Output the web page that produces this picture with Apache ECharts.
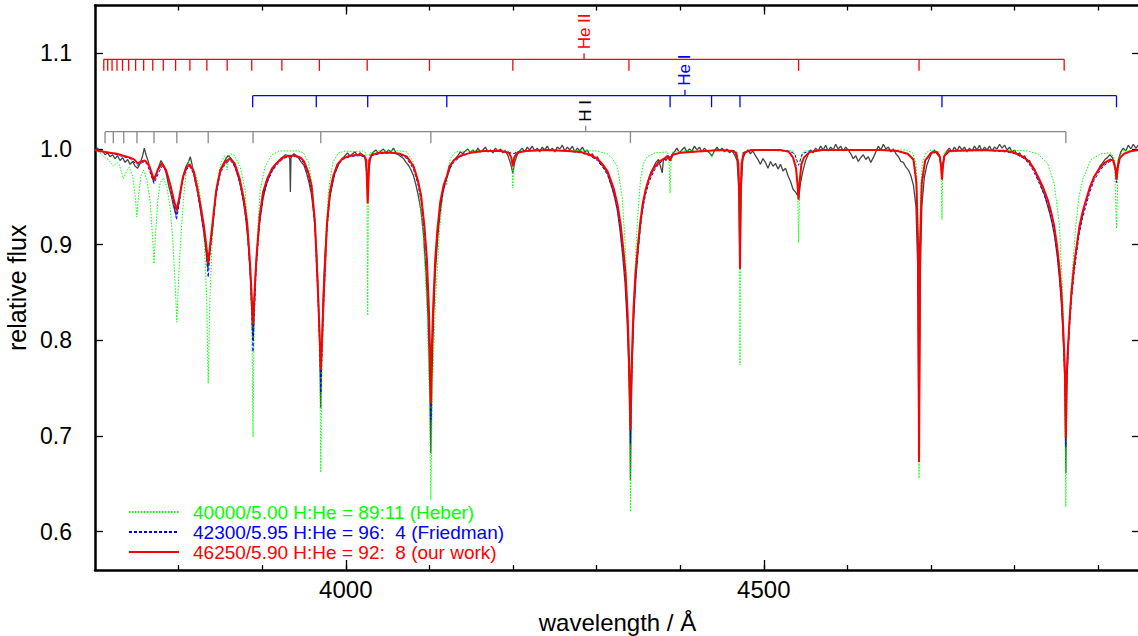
<!DOCTYPE html>
<html><head><meta charset="utf-8">
<script src="https://cdn.jsdelivr.net/npm/echarts@6/dist/echarts.min.js"></script>
<style>html,body{margin:0;padding:0;background:#fff}#chart{width:1138px;height:636px}</style>
</head><body><div id="chart"></div>
<script>
// ---------- tick values ----------
const xMinorTicks = [3800, 3900, 4000, 4100, 4200, 4300, 4400, 4500, 4600, 4700, 4800, 4900];
const xMajorTicks = [4000, 4500];
const yTicks = [0.6, 0.7, 0.8, 0.9, 1.0, 1.1];

// ---------- line identifications (wavelength / Å) ----------
const heIILines = [3710.5, 3715.2, 3720.4, 3726.3, 3732.9, 3740.3, 3748.6, 3758.2, 3769.1, 3781.7, 3796.4, 3813.5, 3833.8, 3858.1, 3887.5, 3923.5, 3968.4, 4025.6, 4100.1, 4199.8, 4338.7, 4541.6, 4685.7, 4859.3];
const heILines = [3888.6, 3964.7, 4026.2, 4120.8, 4387.9, 4437.5, 4471.5, 4713.1, 4921.9];
const hILines = [3712.0, 3721.9, 3734.4, 3750.2, 3770.6, 3797.9, 3835.4, 3889.05, 3970.07, 4101.74, 4340.47, 4861.33];
const ionNames = ['He II', 'He I', 'H I'];
const ionLabelWaves = [4285, 4405.7, 4287];

// ---------- legend ----------
const legendNames = ['40000/5.00 H:He = 89:11 (Heber)', '42300/5.95 H:He = 96:  4 (Friedman)', '46250/5.90 H:He = 92:  8 (our work)'];

// ---------- model: 40000/5.00 (Heber) ----------
const greenModel = [[3700,0.999],[3706,0.996],[3712,0.991],[3716,0.989],[3719,0.985],[3722,0.982],[3726,0.986],[3729,0.984],[3734,0.969],[3738,0.977],[3741,0.981],[3745,0.972],[3748,0.952],[3750,0.929],[3752,0.950],[3755,0.972],[3758,0.978],[3762,0.968],[3766,0.945],[3769,0.905],[3770.6,0.880],[3772,0.905],[3775,0.945],[3778,0.965],[3782,0.970],[3786,0.960],[3790,0.938],[3793,0.905],[3795.5,0.865],[3797.9,0.819],[3800,0.865],[3802.5,0.905],[3806,0.950],[3809,0.975],[3812,0.987],[3815,0.984],[3818,0.978],[3820,0.975],[3824,0.962],[3828,0.935],[3831,0.900],[3833.5,0.845],[3835.4,0.755],[3837.5,0.845],[3840,0.900],[3843,0.940],[3847,0.970],[3851,0.986],[3855,0.993],[3857,0.990],[3858,0.978],[3859.5,0.990],[3862,0.995],[3866,0.994],[3873.6,0.982],[3879.6,0.957],[3883.5,0.912],[3886.4,0.853],[3888,0.790],[3889,0.699],[3890,0.790],[3891.6,0.853],[3894.4,0.912],[3897.6,0.957],[3903.5,0.982],[3911.5,0.994],[3921.5,0.998],[3935,0.998],[3943,0.998],[3949.4,0.996],[3955.4,0.986],[3960.6,0.957],[3964.6,0.906],[3967.4,0.835],[3969,0.760],[3970.1,0.662],[3971.2,0.760],[3973.4,0.835],[3975.7,0.906],[3979.3,0.957],[3984.6,0.986],[3991.3,0.996],[4000,0.998],[4010,0.997],[4020,0.998],[4024,0.996],[4025.3,0.970],[4026.2,0.826],[4027.1,0.970],[4028.5,0.996],[4040,0.998],[4065,0.998],[4073.2,0.997],[4081,0.986],[4087,0.961],[4092.4,0.912],[4097,0.835],[4100,0.740],[4101.7,0.633],[4103.4,0.740],[4107,0.835],[4111.9,0.912],[4117,0.961],[4119.5,0.970],[4120.8,0.962],[4122,0.976],[4125,0.990],[4131,0.997],[4145,0.998],[4190,0.999],[4197,0.997],[4198.8,0.985],[4199.8,0.959],[4200.8,0.985],[4203,0.997],[4240,0.999],[4300,0.998],[4312.7,0.995],[4319,0.990],[4324.7,0.982],[4330.6,0.950],[4334.6,0.894],[4338.2,0.800],[4339.5,0.720],[4340.5,0.621],[4341.5,0.720],[4342.8,0.800],[4347,0.894],[4348.6,0.922],[4352.5,0.968],[4356,0.985],[4360.5,0.992],[4370.5,0.996],[4385,0.997],[4386.8,0.985],[4387.9,0.954],[4389,0.985],[4391,0.997],[4420,0.999],[4435,0.998],[4437.5,0.991],[4440,0.998],[4462,0.999],[4468,0.997],[4470,0.975],[4471,0.900],[4471.5,0.774],[4472,0.900],[4473,0.975],[4475,0.997],[4500,0.999],[4535,0.998],[4538.5,0.990],[4540.3,0.965],[4541.6,0.902],[4542.9,0.965],[4544.5,0.990],[4548,0.998],[4600,0.999],[4670,0.999],[4678,0.996],[4682,0.985],[4684,0.950],[4685,0.880],[4685.7,0.656],[4686.4,0.880],[4687.4,0.950],[4689.5,0.985],[4694,0.996],[4700,0.999],[4710,0.997],[4712,0.985],[4713.1,0.926],[4714.2,0.985],[4716,0.997],[4790,0.999],[4815,0.998],[4827.5,0.995],[4839.5,0.985],[4847.4,0.964],[4853.4,0.922],[4857.4,0.853],[4859.5,0.770],[4861.3,0.626],[4863,0.770],[4867.4,0.853],[4873.4,0.922],[4877,0.950],[4881.4,0.968],[4891.3,0.989],[4903.3,0.995],[4915,0.996],[4919.5,0.990],[4921.9,0.917],[4924,0.990],[4930,0.998],[4950,0.999]];

// ---------- model: 42300/5.95 (Friedman) ----------
const blueModel = [[3700,0.999],[3712,0.997],[3726,0.994],[3734,0.992],[3742,0.990],[3751,0.983],[3757,0.986],[3762,0.985],[3770.6,0.964],[3776,0.975],[3781,0.983],[3786,0.975],[3790,0.960],[3794,0.944],[3797.5,0.926],[3801,0.945],[3805,0.967],[3809,0.978],[3813,0.982],[3818,0.974],[3822,0.957],[3826,0.937],[3830,0.915],[3833,0.893],[3835.4,0.866],[3838,0.895],[3841,0.921],[3845,0.953],[3850,0.975],[3856,0.985],[3862,0.988],[3867,0.982],[3873,0.965],[3878,0.943],[3882,0.917],[3885.5,0.872],[3887.5,0.830],[3889,0.788],[3890.5,0.830],[3893,0.877],[3897,0.924],[3901,0.950],[3906,0.965],[3912,0.977],[3918,0.984],[3925,0.990],[3932,0.992],[3940,0.992],[3946,0.990],[3950,0.985],[3955,0.973],[3959,0.957],[3963,0.919],[3966.5,0.848],[3968.5,0.800],[3970.1,0.745],[3972,0.800],[3974,0.848],[3977.5,0.916],[3981,0.951],[3985,0.969],[3990,0.982],[3996,0.989],[4005,0.992],[4015,0.993],[4022,0.992],[4024.5,0.989],[4026.2,0.955],[4028,0.989],[4031,0.993],[4040,0.995],[4055,0.996],[4065,0.994],[4073,0.990],[4081,0.979],[4086,0.964],[4090,0.947],[4094,0.914],[4097,0.878],[4099.3,0.826],[4100.7,0.780],[4101.7,0.717],[4102.8,0.780],[4104.5,0.826],[4107,0.878],[4109.5,0.909],[4113,0.940],[4117,0.958],[4121,0.970],[4124,0.979],[4129,0.986],[4137,0.992],[4149,0.996],[4165,0.998],[4190,0.998],[4199.8,0.995],[4210,0.998],[4240,0.999],[4265,0.998],[4281,0.996],[4292,0.993],[4301,0.988],[4308,0.980],[4313,0.973],[4318,0.961],[4321,0.952],[4325,0.936],[4328.6,0.915],[4332,0.888],[4334.6,0.862],[4337,0.820],[4338.5,0.780],[4339.7,0.740],[4340.5,0.692],[4341.3,0.740],[4342.5,0.780],[4344,0.820],[4346.5,0.862],[4349,0.888],[4352,0.915],[4355,0.936],[4358.5,0.952],[4363,0.966],[4368.5,0.977],[4375,0.985],[4381,0.989],[4387.9,0.992],[4392,0.994],[4400,0.996],[4430,0.998],[4448,0.999],[4465,0.998],[4469.5,0.987],[4470.7,0.955],[4471.5,0.875],[4472.3,0.955],[4473.5,0.987],[4477,0.997],[4490,0.999],[4530,0.998],[4537,0.995],[4541.6,0.983],[4546,0.995],[4555,0.998],[4570,0.999],[4650,0.999],[4665,0.997],[4675,0.993],[4680,0.987],[4682.5,0.962],[4684.5,0.895],[4685.7,0.680],[4686.9,0.895],[4689,0.962],[4693,0.987],[4700,0.995],[4708,0.997],[4711,0.991],[4713.1,0.972],[4715,0.991],[4720,0.998],[4760,0.999],[4790,0.997],[4800,0.995],[4810,0.991],[4816,0.986],[4822,0.978],[4828,0.967],[4834,0.955],[4840,0.941],[4844,0.927],[4847.5,0.912],[4851,0.890],[4853.5,0.869],[4856,0.842],[4857.5,0.817],[4859,0.786],[4860.2,0.755],[4861.3,0.689],[4862.4,0.755],[4864,0.786],[4866,0.817],[4868,0.842],[4871,0.869],[4874,0.890],[4877.5,0.912],[4881,0.927],[4885.5,0.941],[4890,0.955],[4895,0.967],[4901,0.976],[4907,0.983],[4914,0.987],[4918,0.986],[4920.5,0.978],[4921.9,0.965],[4923.3,0.978],[4926,0.990],[4931,0.995],[4940,0.998],[4950,0.999]];

// ---------- model: 46250/5.90 (our work) ----------
const redModel = [[3700,0.999],[3705,0.998],[3712,0.997],[3718,0.996],[3726,0.995],[3734,0.993],[3742,0.991],[3747,0.989],[3751,0.985],[3755,0.987],[3760,0.988],[3765,0.982],[3770.6,0.968],[3775,0.978],[3780,0.985],[3785,0.978],[3790,0.963],[3794,0.948],[3797.5,0.936],[3801,0.950],[3805,0.970],[3809,0.980],[3813,0.984],[3818,0.977],[3822,0.961],[3826,0.942],[3830,0.921],[3833,0.900],[3835.4,0.881],[3838,0.902],[3841,0.926],[3845,0.957],[3850,0.978],[3856,0.987],[3862,0.990],[3867,0.985],[3873,0.969],[3878,0.948],[3882,0.923],[3885.5,0.880],[3887.5,0.845],[3889,0.817],[3890.5,0.845],[3893,0.885],[3897,0.930],[3901,0.955],[3906,0.969],[3912,0.980],[3918,0.986],[3925,0.991],[3932,0.993],[3940,0.993],[3946,0.991],[3950,0.987],[3955,0.976],[3959,0.962],[3963,0.925],[3966.5,0.855],[3968.5,0.810],[3970.1,0.769],[3972,0.810],[3974,0.855],[3977.5,0.922],[3981,0.955],[3985,0.972],[3990,0.984],[3996,0.990],[4005,0.993],[4015,0.994],[4022,0.993],[4024.5,0.988],[4026.2,0.943],[4028,0.988],[4031,0.994],[4040,0.996],[4055,0.996],[4065,0.995],[4073,0.992],[4081,0.982],[4086,0.968],[4090,0.952],[4094,0.920],[4097,0.885],[4099.3,0.835],[4100.7,0.790],[4101.7,0.734],[4102.8,0.790],[4104.5,0.835],[4107,0.885],[4109.5,0.915],[4113,0.945],[4117,0.962],[4121,0.972],[4124,0.982],[4129,0.988],[4137,0.993],[4149,0.996],[4165,0.998],[4185,0.998],[4195,0.996],[4198,0.991],[4199.8,0.982],[4201.5,0.991],[4205,0.996],[4215,0.998],[4240,0.999],[4265,0.998],[4281,0.997],[4292,0.994],[4301,0.990],[4308,0.983],[4313,0.977],[4318,0.965],[4321,0.957],[4325,0.942],[4328.6,0.922],[4332,0.895],[4334.6,0.870],[4337,0.830],[4338.5,0.790],[4339.7,0.750],[4340.5,0.706],[4341.3,0.750],[4342.5,0.790],[4344,0.830],[4346.5,0.870],[4349,0.895],[4352,0.922],[4355,0.942],[4358.5,0.957],[4363,0.970],[4368.5,0.980],[4375,0.987],[4381,0.990],[4385,0.993],[4387.9,0.988],[4391,0.994],[4400,0.996],[4412,0.997],[4430,0.998],[4448,0.999],[4462,0.998],[4467,0.996],[4469.5,0.985],[4470.7,0.950],[4471.5,0.875],[4472.3,0.950],[4473.5,0.985],[4476,0.996],[4485,0.999],[4520,0.999],[4530,0.997],[4535,0.991],[4538.5,0.980],[4540.3,0.963],[4541.6,0.947],[4543,0.967],[4545,0.984],[4548,0.991],[4555,0.997],[4570,0.999],[4640,0.999],[4660,0.998],[4672,0.995],[4679,0.989],[4682.5,0.965],[4684.5,0.900],[4685.7,0.673],[4686.9,0.900],[4689,0.965],[4693,0.988],[4700,0.996],[4707,0.997],[4710.5,0.992],[4712,0.982],[4713.1,0.968],[4714.3,0.982],[4716,0.993],[4722,0.998],[4760,0.999],[4790,0.998],[4800,0.996],[4810,0.992],[4816,0.988],[4822,0.981],[4828,0.971],[4834,0.960],[4840,0.946],[4844,0.933],[4847.5,0.919],[4851,0.897],[4853.5,0.877],[4856,0.850],[4857.5,0.825],[4859,0.795],[4860.2,0.766],[4861.3,0.698],[4862.4,0.766],[4864,0.795],[4866,0.825],[4868,0.850],[4871,0.877],[4874,0.897],[4877.5,0.919],[4881,0.933],[4885.5,0.947],[4890,0.960],[4895,0.971],[4901,0.979],[4907,0.985],[4914,0.989],[4918,0.988],[4920.5,0.980],[4921.9,0.968],[4923.3,0.980],[4926,0.991],[4931,0.995],[4940,0.998],[4950,0.999]];

// ---------- observed spectrum ----------
const observed = [[3700,0.999],[3703,1.001],[3706,0.997],[3709,0.998],[3712,0.994],[3715,0.996],[3718,0.992],[3721,0.994],[3724,0.990],[3727,0.993],[3730,0.988],[3733,0.991],[3736,0.986],[3739,0.989],[3742,0.984],[3745,0.987],[3748,0.982],[3751,0.980],[3754,0.985],[3757,0.993],[3759,1.001],[3761,0.994],[3764,0.986],[3767,0.975],[3770,0.966],[3773,0.972],[3776,0.981],[3779,0.988],[3782,0.983],[3785,0.975],[3788,0.962],[3791,0.952],[3794,0.940],[3797,0.931],[3800,0.942],[3803,0.960],[3806,0.974],[3809,0.982],[3812,0.987],[3814,0.992],[3817,0.980],[3820,0.966],[3823,0.955],[3826,0.937],[3829,0.920],[3832,0.900],[3835,0.875],[3838,0.898],[3841,0.920],[3844,0.948],[3847,0.967],[3850,0.978],[3853,0.984],[3856,0.989],[3859,0.993],[3862,0.991],[3865,0.986],[3868,0.980],[3871,0.972],[3874,0.962],[3877,0.948],[3880,0.930],[3883,0.905],[3886,0.865],[3888,0.820],[3889,0.800],[3890.5,0.830],[3892,0.870],[3895,0.908],[3898,0.930],[3901,0.948],[3904,0.960],[3907,0.968],[3910,0.975],[3913,0.979],[3916,0.984],[3919,0.987],[3922,0.990],[3925,0.992],[3928,0.994],[3931,0.993],[3933,0.990],[3933.7,0.955],[3934.4,0.991],[3936,0.993],[3938,0.995],[3941,0.993],[3944,0.990],[3947,0.986],[3950,0.983],[3953,0.975],[3956,0.965],[3959,0.952],[3962,0.930],[3965,0.895],[3967,0.850],[3969,0.790],[3970,0.729],[3971,0.790],[3973,0.850],[3975,0.890],[3978,0.925],[3981,0.950],[3984,0.963],[3987,0.975],[3990,0.981],[3993,0.987],[3996,0.990],[3999,0.993],[4002,0.996],[4005,0.992],[4008,0.995],[4011,0.997],[4014,0.993],[4017,0.996],[4020,0.994],[4023,0.991],[4025,0.975],[4026.2,0.950],[4027.5,0.978],[4030,0.993],[4033,0.997],[4036,0.999],[4039,0.995],[4042,0.998],[4045,1.000],[4048,0.996],[4051,0.999],[4054,0.997],[4057,1.001],[4060,0.996],[4063,0.994],[4066,0.992],[4069,0.990],[4072,0.986],[4075,0.983],[4078,0.978],[4081,0.972],[4084,0.962],[4087,0.950],[4090,0.935],[4093,0.910],[4096,0.870],[4098.5,0.820],[4100.5,0.750],[4101.7,0.682],[4103,0.760],[4105,0.825],[4107,0.870],[4110,0.908],[4113,0.935],[4116,0.953],[4119,0.965],[4122,0.973],[4125,0.981],[4128,0.987],[4131,0.990],[4134,0.993],[4137,0.997],[4140,0.995],[4143,0.998],[4146,1.000],[4149,0.996],[4152,0.999],[4155,0.996],[4158,1.001],[4161,0.997],[4164,0.999],[4167,1.002],[4170,0.997],[4173,0.999],[4176,0.996],[4179,1.001],[4182,0.998],[4185,1.000],[4188,0.996],[4191,0.998],[4194,0.993],[4197,0.985],[4199.8,0.975],[4202,0.986],[4205,0.994],[4208,0.998],[4211,1.001],[4214,0.997],[4217,1.002],[4220,0.999],[4223,1.003],[4226,0.998],[4229,1.001],[4232,0.997],[4235,1.002],[4238,0.999],[4241,1.003],[4244,0.998],[4247,1.001],[4250,0.997],[4253,1.002],[4256,1.000],[4259,1.004],[4262,0.998],[4265,1.002],[4268,0.999],[4271,1.003],[4274,0.997],[4277,1.001],[4280,0.998],[4283,1.002],[4286,0.997],[4289,0.999],[4292,0.993],[4295,0.995],[4298,0.990],[4301,0.992],[4304,0.985],[4307,0.983],[4310,0.979],[4313,0.975],[4316,0.966],[4319,0.958],[4322,0.948],[4325,0.935],[4328,0.915],[4331,0.890],[4334,0.860],[4336.5,0.820],[4338.5,0.770],[4339.8,0.710],[4340.5,0.654],[4341.3,0.720],[4342.5,0.775],[4344.5,0.825],[4347,0.865],[4350,0.898],[4353,0.925],[4356,0.945],[4359,0.958],[4362,0.968],[4365,0.976],[4368,0.981],[4371,0.986],[4374,0.989],[4376,0.983],[4378.5,0.975],[4380,0.990],[4383,0.988],[4386,0.992],[4388,0.988],[4390,0.994],[4393,0.997],[4396,1.001],[4399,0.996],[4402,0.999],[4405,1.002],[4408,0.997],[4411,1.000],[4414,0.998],[4417,1.003],[4420,0.999],[4423,1.002],[4426,0.997],[4429,1.001],[4432,0.998],[4435,0.996],[4438,0.993],[4441,0.998],[4444,1.002],[4447,0.998],[4450,1.001],[4453,0.997],[4456,1.000],[4459,0.996],[4462,0.998],[4465,0.994],[4468,0.988],[4470,0.960],[4471.5,0.875],[4473,0.960],[4475,0.990],[4478,0.996],[4481,0.999],[4484,0.995],[4487,0.998],[4490,0.993],[4493,0.989],[4496,0.984],[4499,0.990],[4502,0.986],[4505,0.980],[4508,0.987],[4511,0.982],[4514,0.985],[4517,0.979],[4520,0.984],[4523,0.977],[4526,0.980],[4529,0.972],[4532,0.966],[4535,0.958],[4538,0.955],[4541.6,0.950],[4544,0.965],[4547,0.978],[4550,0.988],[4553,0.994],[4556,0.999],[4559,0.996],[4562,1.001],[4565,0.998],[4568,1.003],[4571,0.999],[4574,1.004],[4577,0.998],[4580,1.002],[4583,0.999],[4586,1.005],[4589,1.000],[4592,1.003],[4595,0.998],[4598,1.002],[4601,0.999],[4604,0.995],[4607,0.990],[4610,0.993],[4613,0.987],[4616,0.991],[4619,0.994],[4622,0.989],[4625,0.992],[4628,0.986],[4631,0.991],[4634,0.997],[4637,1.003],[4640,0.999],[4643,1.005],[4646,1.000],[4649,1.002],[4652,0.997],[4655,1.000],[4658,0.995],[4661,0.992],[4664,0.987],[4667,0.986],[4670,0.981],[4673,0.978],[4676,0.972],[4679,0.962],[4682,0.940],[4684,0.880],[4685.7,0.690],[4687.3,0.870],[4689,0.940],[4692,0.970],[4695,0.983],[4698,0.990],[4701,0.996],[4704,0.999],[4707,0.995],[4710,0.992],[4713.1,0.978],[4716,0.992],[4719,0.998],[4722,1.001],[4725,0.997],[4728,1.002],[4731,0.998],[4734,1.003],[4737,0.999],[4740,1.002],[4743,0.997],[4746,1.001],[4749,0.998],[4752,1.003],[4755,0.999],[4758,1.004],[4761,0.998],[4764,1.002],[4767,0.999],[4770,1.003],[4773,0.998],[4776,1.002],[4779,1.000],[4782,1.005],[4785,1.001],[4788,1.004],[4791,0.999],[4794,1.002],[4797,0.997],[4800,0.999],[4803,0.994],[4806,0.996],[4809,0.991],[4812,0.993],[4815,0.987],[4818,0.988],[4821,0.981],[4824,0.979],[4827,0.971],[4830,0.966],[4833,0.958],[4836,0.952],[4839,0.942],[4842,0.933],[4845,0.922],[4848,0.908],[4851,0.888],[4853.5,0.866],[4856,0.838],[4858,0.805],[4859.5,0.775],[4860.5,0.740],[4861.3,0.661],[4862.2,0.745],[4863.5,0.780],[4865,0.810],[4867,0.838],[4869.5,0.862],[4872,0.885],[4875,0.903],[4878,0.918],[4881,0.930],[4884,0.942],[4887,0.950],[4890,0.959],[4893,0.966],[4896,0.972],[4899,0.976],[4902,0.982],[4905,0.985],[4908,0.989],[4911,0.991],[4914,0.994],[4917,0.991],[4920,0.983],[4921.9,0.975],[4924,0.988],[4927,0.997],[4930,1.001],[4933,0.998],[4936,1.004],[4939,1.000],[4942,1.005],[4945,1.001],[4948,1.004],[4950,1.002]];

// ---------- chart ----------
const FONT = '"Liberation Sans", Arial, Helvetica, sans-serif';
const chart = echarts.init(document.getElementById('chart'), null, { renderer: 'svg' });

function lineSeries(name, data, color, width, type, z) {
  return {
    type: 'line', name: name, data: data, showSymbol: false, symbol: 'none',
    smooth: false, silent: true, z: z, animation: false,
    lineStyle: { color: color, width: width, type: type }, itemStyle: { color: color }
  };
}

function combSeries(idx, waves, level, color, labelColor) {
  const TICK = 11.5;
  return {
    type: 'custom', name: ionNames[idx] + ' ids', silent: true, z: 6, animation: false,
    data: waves.map(w => [w, level]),
    encode: { x: 0, y: 1 },
    renderItem: function (params, api) {
      const p = api.coord([api.value(0), level]);
      const kids = [{ type: 'line', shape: { x1: p[0], y1: p[1], x2: p[0], y2: p[1] + TICK },
        style: { stroke: color, lineWidth: 1.3 } }];
      if (params.dataIndex === 0) {
        const q = api.coord([waves[waves.length - 1], level]);
        kids.push({ type: 'line', shape: { x1: p[0], y1: p[1], x2: q[0], y2: q[1] },
          style: { stroke: color, lineWidth: 1.3 } });
        const l = api.coord([ionLabelWaves[idx], level]);
        kids.push({ type: 'line', shape: { x1: l[0], y1: l[1], x2: l[0], y2: l[1] - 6 },
          style: { stroke: color, lineWidth: 1.3 } });
        kids.push({ type: 'text', x: l[0], y: l[1] - 10, rotation: Math.PI / 2,
          style: { text: ionNames[idx], fill: labelColor, fontSize: 17, fontFamily: FONT,
            align: 'left', verticalAlign: 'middle' } });
      }
      return { type: 'group', children: kids };
    }
  };
}

const axisCommonX = { type: 'value', min: 3700, max: 4950, splitLine: { show: false } };
const axisCommonY = { type: 'value', min: 0.56, max: 1.15, splitLine: { show: false } };
const tickStyle = { color: '#000', width: 1.3 };

const option = {
  animation: false,
  backgroundColor: '#fff',
  textStyle: { fontFamily: FONT },
  grid: { left: 95, right: -2, top: 5.5, bottom: 66, containLabel: false, outerBoundsMode: 'none' },
  xAxis: [
    Object.assign({}, axisCommonX, {
      position: 'bottom',
      axisLine: { show: true, onZero: false, lineStyle: { color: '#000', width: 2.5 } },
      axisTick: { show: true, inside: true, length: 5, customValues: xMinorTicks, lineStyle: tickStyle },
      axisLabel: { show: true, customValues: xMajorTicks, formatter: v => String(v),
        fontSize: 24, color: '#000', margin: 7, fontFamily: FONT },
      name: 'wavelength / Å', nameLocation: 'middle', nameGap: 40,
      nameTextStyle: { fontSize: 24, color: '#000', fontFamily: FONT }
    }),
    Object.assign({}, axisCommonX, {
      position: 'bottom', axisLine: { show: false, onZero: false },
      axisTick: { show: true, inside: true, length: 10, customValues: xMajorTicks, lineStyle: tickStyle },
      axisLabel: { show: false }
    }),
    Object.assign({}, axisCommonX, {
      position: 'top',
      axisLine: { show: true, onZero: false, lineStyle: { color: '#000', width: 2.5 } },
      axisTick: { show: true, inside: true, length: 5, customValues: xMinorTicks, lineStyle: tickStyle },
      axisLabel: { show: false }
    }),
    Object.assign({}, axisCommonX, {
      position: 'top', axisLine: { show: false, onZero: false },
      axisTick: { show: true, inside: true, length: 9, customValues: xMajorTicks, lineStyle: tickStyle },
      axisLabel: { show: false }
    })
  ],
  yAxis: [
    Object.assign({}, axisCommonY, {
      position: 'left',
      axisLine: { show: true, onZero: false, lineStyle: { color: '#000', width: 2.5 } },
      axisTick: { show: true, inside: true, length: 8, customValues: yTicks, lineStyle: tickStyle },
      axisLabel: { show: true, customValues: yTicks, formatter: v => v.toFixed(1),
        fontSize: 23, color: '#000', margin: 23, fontFamily: FONT },
      name: 'relative flux', nameLocation: 'middle', nameGap: 57, nameRotate: 90,
      nameTextStyle: { fontSize: 25, color: '#000', fontFamily: FONT }
    }),
    Object.assign({}, axisCommonY, {
      position: 'right',
      axisLine: { show: true, onZero: false, lineStyle: { color: '#000', width: 2.5 } },
      axisTick: { show: true, inside: true, length: 8, customValues: yTicks, lineStyle: tickStyle },
      axisLabel: { show: false }
    })
  ],
  legend: {
    orient: 'vertical', left: 123, top: 497, itemWidth: 50, itemHeight: 10, itemGap: 0,
    selectedMode: false, icon: 'inherit',
    itemStyle: { opacity: 0 },
    textStyle: { fontSize: 19, lineHeight: 20, fontFamily: FONT, padding: [0, 0, 0, 9] },
    data: [
      { name: legendNames[0], textStyle: { color: '#00ff00' } },
      { name: legendNames[1], textStyle: { color: '#0000ff' } },
      { name: legendNames[2], textStyle: { color: '#ff0000' } }
    ]
  },
  series: [
    lineSeries('observed', observed, '#454545', 1.3, 'solid', 2),
    lineSeries(legendNames[0], greenModel, '#00ff00', 1, [1.5, 1.5], 3),
    lineSeries(legendNames[1], blueModel, '#0000ff', 1, [3, 2], 4),
    lineSeries(legendNames[2], redModel, '#ff0000', 2, 'solid', 5),
    combSeries(0, heIILines, 1.0937, '#ff0000', '#ff0000'),
    combSeries(1, heILines, 1.0557, '#0000ff', '#0000ff'),
    combSeries(2, hILines, 1.0181, '#888888', '#000000')
  ]
};
chart.setOption(option);
</script></body></html>
